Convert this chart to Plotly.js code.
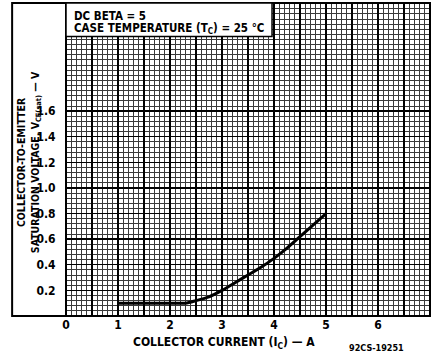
<!DOCTYPE html>
<html>
<head>
<meta charset="utf-8">
<script src="https://cdn.plot.ly/plotly-3.0.1.min.js"></script>
<style>html,body{margin:0;padding:0;background:#fff;}#chart{width:435px;height:355px;}</style>
</head>
<body>
<div id="chart"></div>
<script>
// Collector current (A)
const collectorCurrent = [1, 1.5, 2, 2.3, 2.5, 2.75, 3, 3.25, 3.5, 3.75, 4, 4.25, 4.5, 4.75, 5];
// Collector-to-emitter saturation voltage (V)
const vceSat = [0.1, 0.1, 0.1, 0.1, 0.12, 0.15, 0.2, 0.26, 0.32, 0.38, 0.45, 0.53, 0.62, 0.71, 0.8];

const xTickVals = [0, 1, 2, 3, 4, 5, 6];
const xTickText = ['0', '1', '2', '3', '4', '5', '6'];
const yTickVals = [0.2, 0.4, 0.6, 0.8, 1.0, 1.2, 1.4, 1.6];
const yTickText = ['0.2', '0.4', '0.6', '0.8', '1.0', '1.2', '1.4', '1.6'];

const FONT = 'DejaVu Sans Condensed, DejaVu Sans, Liberation Sans, sans-serif';

const trace = {
  x: collectorCurrent, y: vceSat, type: 'scatter', mode: 'lines',
  line: {color: '#000', width: 3, shape: 'spline', smoothing: 0.6},
  hoverinfo: 'skip'
};
// empty trace so the overlay grid axis is drawn
const gridTrace = {x: [], y: [], type: 'scatter', mode: 'lines', xaxis: 'x2', yaxis: 'y', hoverinfo: 'skip'};

const layout = {
  width: 435, height: 355,
  margin: {l: 66, r: 5, t: 3, b: 39},
  paper_bgcolor: '#fff', plot_bgcolor: '#fff',
  showlegend: false,
  font: {family: FONT, color: '#000', size: 11},
  xaxis: {
    range: [0, 7], tickmode: 'array', tickvals: xTickVals, ticktext: xTickText,
    showgrid: false,
    minor: {dtick: 0.1, tick0: 0, showgrid: true, gridcolor: '#3a3a3a', gridwidth: 1},
    zeroline: false, showline: false,
    ticks: '', 
    tickfont: {family: FONT, size: 12, color: '#000', weight: 'bold'},
    fixedrange: true
  },
  xaxis2: {
    overlaying: 'x', range: [0, 7], tickmode: 'linear', tick0: 0, dtick: 0.5,
    showgrid: true, gridcolor: '#000', gridwidth: 1.4,
    showticklabels: false, ticks: '', zeroline: false, showline: false,
    side: 'bottom', fixedrange: true
  },
  yaxis: {
    range: [0, 2.445], tickmode: 'array', tickvals: yTickVals, ticktext: yTickText,
    showgrid: true, gridcolor: '#000', gridwidth: 1.4,
    minor: {dtick: 0.04, tick0: 0, showgrid: true, gridcolor: '#3a3a3a', gridwidth: 1},
    zeroline: false, showline: false,
    ticks: 'outside', ticklen: 7, tickcolor: 'rgba(0,0,0,0)',
    tickfont: {family: FONT, size: 12, color: '#000', weight: 'bold'},
    fixedrange: true
  },
  shapes: [
    // outer frame
    {type: 'rect', xref: 'paper', yref: 'paper', x0: -0.148, x1: 1, y0: 0, y1: 1,
     line: {color: '#000', width: 2}, fillcolor: 'rgba(0,0,0,0)', layer: 'above'},
    // plot left edge
    {type: 'line', xref: 'paper', yref: 'paper', x0: 0, x1: 0, y0: 0, y1: 1,
     line: {color: '#000', width: 2}, layer: 'above'},
    // title box
    {type: 'rect', xref: 'paper', yref: 'paper', x0: 0, x1: 0.566, y0: 0.893, y1: 1,
     line: {color: '#000', width: 1.5}, fillcolor: '#fff', layer: 'above'}
  ],
  annotations: [
    {xref: 'paper', yref: 'paper', x: 0.016, y: 0.958, xanchor: 'left', yanchor: 'middle',
     showarrow: false, align: 'left',
     text: '<b>DC BETA = 5</b>',
     font: {family: FONT, size: 11.5, color: '#000'}},
    {xref: 'paper', yref: 'paper', x: 0.016, y: 0.918, xanchor: 'left', yanchor: 'middle',
     showarrow: false, align: 'left',
     text: '<b>CASE TEMPERATURE (T<sub>C</sub>) = 25 °C</b>',
     font: {family: FONT, size: 11.5, color: '#000'}},
    {xref: 'paper', yref: 'paper', x: -0.103, y: 0.49, xanchor: 'center', yanchor: 'middle',
     showarrow: false, textangle: -90, align: 'center',
     text: '<b>COLLECTOR-TO-EMITTER<br>SATURATION VOLTAGE, V<sub>CE(sat)</sub> — V</b>',
     font: {family: FONT, size: 10.5, color: '#000'}},
    {xref: 'paper', yref: 'paper', x: 0.435, y: -0.055, xanchor: 'center', yanchor: 'top',
     showarrow: false,
     text: '<b>COLLECTOR CURRENT (I<sub>C</sub>) — A</b>',
     font: {family: FONT, size: 12, color: '#000'}},
    {xref: 'paper', yref: 'paper', x: 0.854, y: -0.08, xanchor: 'center', yanchor: 'top',
     showarrow: false,
     text: '<b>92CS-19251</b>',
     font: {family: FONT, size: 9, color: '#000'}}
  ]
};

Plotly.newPlot('chart', [gridTrace, trace], layout, {displayModeBar: false, staticPlot: true});
</script>
</body>
</html>
